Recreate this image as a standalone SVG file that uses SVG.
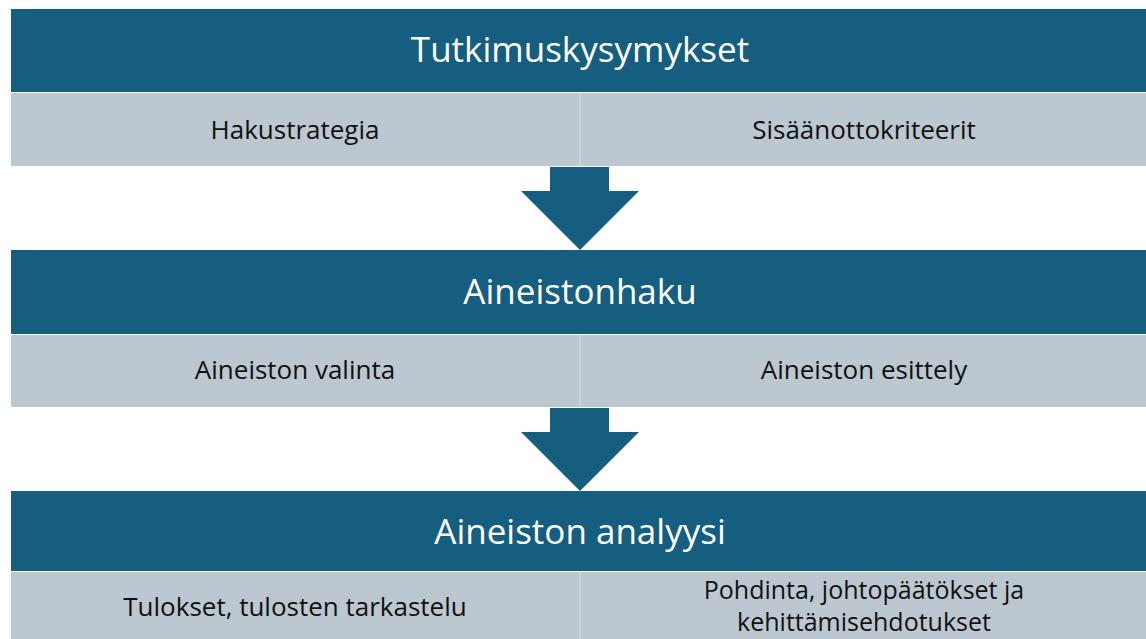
<svg xmlns="http://www.w3.org/2000/svg" width="1146" height="639" viewBox="0 0 1146 639">
<style>
.hd{fill:#165E80}
.lt{fill:#BCC7D0}
.dv{fill:#CDD5DC}
.ar{fill:#165E80}
.ht{font-family:"Open Sans","Liberation Sans",sans-serif;font-size:35px;fill:#ffffff;text-anchor:middle;dominant-baseline:central}
.st{font-family:"Open Sans","Liberation Sans",sans-serif;font-size:26px;fill:#111111;text-anchor:middle;dominant-baseline:central}
.st2{font-size:25px}
</style>
<rect width="1146" height="639" fill="#ffffff"/>
<g id="stage1">
<rect class="hd" x="11" y="9" width="1135" height="83"/>
<text class="ht" x="580" y="48">Tutkimuskysymykset</text>
</g>
<g id="hakustrategia">
<rect class="lt" x="11" y="93" width="569" height="73"/>
<text class="st" x="295" y="129">Hakustrategia</text>
</g>
<g id="sisaanottokriteerit">
<rect class="lt" x="580" y="93" width="566" height="73"/>
<text class="st" x="864" y="129">Sisäänottokriteerit</text>
</g>
<rect class="dv" x="579" y="93" width="2" height="73"/>
<g id="stage2">
<rect class="hd" x="11" y="250" width="1135" height="84"/>
<text class="ht" x="580" y="290">Aineistonhaku</text>
</g>
<g id="valinta">
<rect class="lt" x="11" y="335" width="569" height="72"/>
<text class="st" x="295" y="369">Aineiston valinta</text>
</g>
<g id="esittely">
<rect class="lt" x="580" y="335" width="566" height="72"/>
<text class="st" x="864" y="369">Aineiston esittely</text>
</g>
<rect class="dv" x="579" y="335" width="2" height="72"/>
<g id="stage3">
<rect class="hd" x="11" y="491" width="1135" height="80"/>
<text class="ht" x="580" y="530">Aineiston analyysi</text>
</g>
<g id="tulokset">
<rect class="lt" x="11" y="572" width="569" height="67"/>
<text class="st" x="295" y="606">Tulokset, tulosten tarkastelu</text>
</g>
<g id="pohdinta">
<rect class="lt" x="580" y="572" width="566" height="67"/>
<text class="st st2" x="864" y="589">Pohdinta, johtopäätökset ja</text>
<text class="st st2" x="864" y="621">kehittämisehdotukset</text>
</g>
<rect class="dv" x="579" y="572" width="2" height="67"/>
<g id="connectors">
<polygon class="ar" points="550,167 609,167 609,191 639,191 580,250 521,191 550,191"/>
<polygon class="ar" points="550,408 609,408 609,432 639,432 580,491 521,432 550,432"/>
</g>
</svg>
